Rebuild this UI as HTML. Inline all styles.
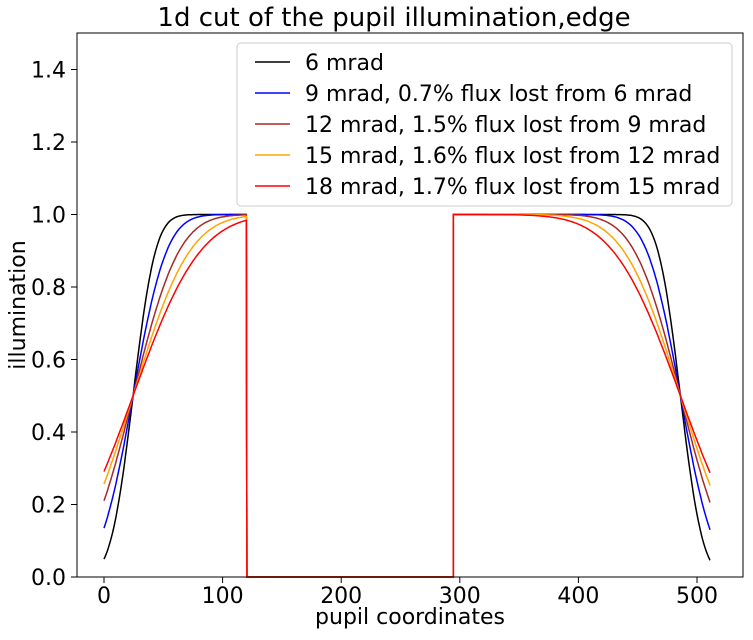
<!DOCTYPE html>
<html><head><meta charset="utf-8"><style>
body{margin:0;background:#fff}
svg text{font-family:"DejaVu Sans","Liberation Sans",sans-serif;fill:#000}
</style></head><body>
<svg id="s" width="753" height="635" xmlns="http://www.w3.org/2000/svg">
<rect width="753" height="635" fill="#fff"/>
<g id="curves"></g>
<rect x="77" y="33" width="666" height="544" fill="none" stroke="#000" stroke-width="1"/>
<g id="ticks" font-size="22"></g>
<text x="394" y="26" font-size="26" text-anchor="middle">1d cut of the pupil illumination,edge</text>
<text x="410" y="624" font-size="22" text-anchor="middle">pupil coordinates</text>
<text transform="translate(25,305) rotate(-90)" font-size="22" text-anchor="middle">illumination</text>
<g font-size="22">
<rect x="237" y="43" width="495" height="163" rx="4" fill="#fff" fill-opacity="0.8" stroke="#ccc"/>
<line x1="255" x2="290" y1="62" y2="62" stroke="#000" stroke-width="1.5"/><text x="305" y="70">6 mrad</text>
<line x1="255" x2="290" y1="93" y2="93" stroke="#0000ff" stroke-width="1.5"/><text x="305" y="101">9 mrad, 0.7% flux lost from 6 mrad</text>
<line x1="255" x2="290" y1="124" y2="124" stroke="#a52a2a" stroke-width="1.5"/><text x="305" y="132">12 mrad, 1.5% flux lost from 9 mrad</text>
<line x1="255" x2="290" y1="155" y2="155" stroke="#ffa500" stroke-width="1.5"/><text x="305" y="163">15 mrad, 1.6% flux lost from 12 mrad</text>
<line x1="255" x2="290" y1="186" y2="186" stroke="#ff0000" stroke-width="1.5"/><text x="305" y="194">18 mrad, 1.7% flux lost from 15 mrad</text>
</g>
</svg>
<script>
function erf(x){var s=x<0?-1:1;x=Math.abs(x);var t=1/(1+0.3275911*x);
var y=1-(((((1.061405429*t-1.453152027)*t)+1.421413741)*t-0.284496736)*t+0.254829592)*t*Math.exp(-x*x);return s*y;}
var X=function(v){return 104+v*1.186},Y=function(v){return 577-v*362.5};
var ns="http://www.w3.org/2000/svg";
var series=[[21,"#000"],[31.4,"#0000ff"],[43,"#a52a2a"],[53,"#ffa500"],[63,"#ff0000"]];
var g=document.getElementById("curves");
series.forEach(function(sr){var d="";
for(var i=0;i<=511;i++){var v;
if(i<=120){v=0.5*(1+erf((i-24.5)/sr[0]));}
else if(i<295){v=0;}
else{v=0.5*(1+erf((510.5-i-24.5)/sr[0]));}
if(i==121){d+="L"+X(120.5).toFixed(1)+","+Y(0).toFixed(1);}
if(i==295){d+="L"+X(294.5).toFixed(1)+","+Y(0).toFixed(1)+"L"+X(294.5).toFixed(1)+","+Y(1).toFixed(1);}
d+=(i?"L":"M")+X(i).toFixed(1)+","+Y(v).toFixed(1);}
var p=document.createElementNS(ns,"path");p.setAttribute("d",d);p.setAttribute("fill","none");
p.setAttribute("stroke",sr[1]);p.setAttribute("stroke-width","1.5");g.appendChild(p);});
var t=document.getElementById("ticks"),h="";
[0,100,200,300,400,500].forEach(function(v){var x=X(v);h+='<line x1="'+x+'" x2="'+x+'" y1="577" y2="583" stroke="#000"/><text x="'+x+'" y="603" text-anchor="middle">'+v+'</text>';});
[0,0.2,0.4,0.6,0.8,1.0,1.2,1.4].forEach(function(v){var y=Y(v);h+='<line x1="71" x2="77" y1="'+y+'" y2="'+y+'" stroke="#000"/><text x="66" y="'+(y+8)+'" text-anchor="end">'+v.toFixed(1)+'</text>';});
t.innerHTML=h;
</script>
</body></html>
